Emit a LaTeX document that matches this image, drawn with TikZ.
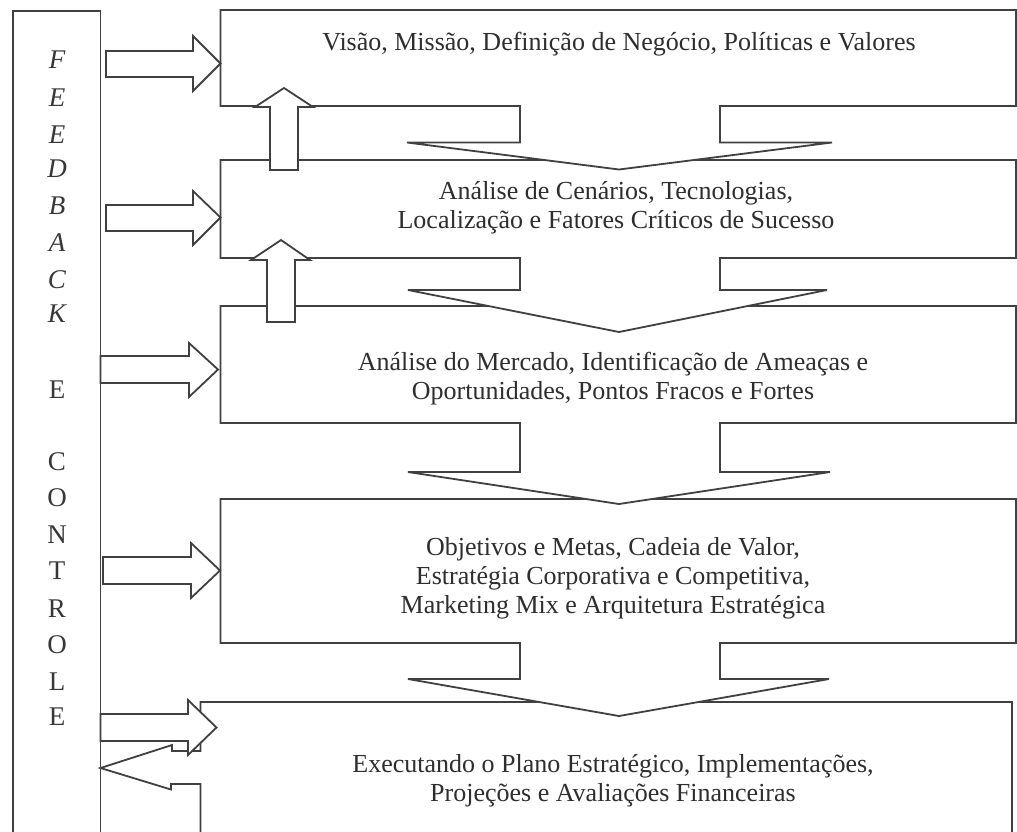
\documentclass[tikz,border=0pt]{standalone}
\usepackage{fontspec}
\setmainfont{Liberation Serif}
\begin{document}
\begin{tikzpicture}[x=1pt,y=-1pt,
  shp/.style={draw=black!75, line width=1.8pt, fill=white, line join=miter},
  txt/.style={align=center, font=\fontsize{26}{29}\selectfont, text=black!82, inner sep=0pt},
  letter/.style={font=\fontsize{27}{27}\selectfont, text=black!78, inner sep=0pt},
  iletter/.style={letter, font=\fontsize{27}{27}\selectfont\itshape}]
\useasboundingbox (0,0) rectangle (1017,831);
\clip (0,0) rectangle (1017,831);

% left column
\draw[shp] (13,845) -- (13,11) -- (100.5,11) -- (100.5,845);

% box 5 with return arrow
\draw[shp] (200.5,845) -- (200.5,784) -- (171,784) -- (171,789.5) -- (100.5,768) -- (172,745) -- (172,751) -- (200.5,751) -- (200.5,702) -- (1012,702) -- (1012,845);

% box 4
\draw[shp] (220.5,499) -- (1016,499) -- (1016,643) -- (720,643) -- (720,679) -- (829,679) -- (619,716) -- (408,679) -- (520,679) -- (520,643) -- (220.5,643) -- cycle;
% box 3
\draw[shp] (220.5,306) -- (1016,306) -- (1016,423) -- (720,423) -- (720,472) -- (830,472) -- (619,504) -- (408,472) -- (520,472) -- (520,423) -- (220.5,423) -- cycle;
% box 2
\draw[shp] (220.5,160) -- (1016,160) -- (1016,258) -- (720,258) -- (720,290) -- (827,290) -- (619,332) -- (408,290) -- (520,290) -- (520,258) -- (220.5,258) -- cycle;
% box 1
\draw[shp] (220.5,10) -- (1016,10) -- (1016,106) -- (720,106) -- (720,142.5) -- (832,142.5) -- (619,169.5) -- (407,142.5) -- (520,142.5) -- (520,106) -- (220.5,106) -- cycle;

% up arrows
\draw[shp] (270,170) -- (270,107) -- (255,107) -- (284,88) -- (313,107) -- (298,107) -- (298,170) -- cycle;
\draw[shp] (267,322) -- (267,260) -- (251,260) -- (281,240) -- (310,260) -- (295,260) -- (295,322) -- cycle;

% right arrows
\draw[shp] (106,51) -- (193,51) -- (193,36) -- (220.5,63.5) -- (193,91) -- (193,77) -- (106,77) -- cycle;
\draw[shp] (106,205) -- (193,205) -- (193,191) -- (220.5,217.5) -- (193,245) -- (193,231) -- (106,231) -- cycle;
\draw[shp] (100.5,356) -- (189,356) -- (189,343) -- (218,369.5) -- (189,397) -- (189,383) -- (100.5,383) -- cycle;
\draw[shp] (103,557) -- (191,557) -- (191,543) -- (220,570.5) -- (191,598) -- (191,584) -- (103,584) -- cycle;
\draw[shp] (100.5,714) -- (188,714) -- (188,700) -- (216.5,727.5) -- (188,755) -- (188,741) -- (100.5,741) -- cycle;

% texts
\node[txt] (t1) at (619,44) {Visão, Missão, Definição de Negócio, Políticas e Valores};
\node[txt] (t2) at (616,208) {Análise de Cenários, Tecnologias,\\Localização e Fatores Críticos de Sucesso};
\node[txt] (t3) at (613,379) {Análise do Mercado, Identificação de Ameaças e\\Oportunidades, Pontos Fracos e Fortes};
\node[txt] (t4) at (613,578.5) {Objetivos e Metas, Cadeia de Valor,\\Estratégia Corporativa e Competitiva,\\Marketing Mix e Arquitetura Estratégica};
\node[txt] (t5) at (613,780.5) {Executando o Plano Estratégico, Implementações,\\Projeções e Avaliações Financeiras};

% column letters
\node[iletter] (l1) at (57,60) {F};
\node[iletter] (l2) at (57,98) {E};
\node[iletter] (l3) at (57,135) {E};
\node[iletter] (l4) at (57,169) {D};
\node[iletter] (l5) at (57,206) {B};
\node[iletter] (l6) at (57,243) {A};
\node[iletter] (l7) at (57,279.5) {C};
\node[iletter] (l8) at (57,314) {K};
\node[letter] (l9) at (57,389.5) {E};
\node[letter] (l10) at (57,462) {C};
\node[letter] (l11) at (57,497.5) {O};
\node[letter] (l12) at (57,535) {N};
\node[letter] (l13) at (57,570.5) {T};
\node[letter] (l14) at (57,608.5) {R};
\node[letter] (l15) at (57,645) {O};
\node[letter] (l16) at (57,682) {L};
\node[letter] (l17) at (57,717) {E};
\end{tikzpicture}
\end{document}
